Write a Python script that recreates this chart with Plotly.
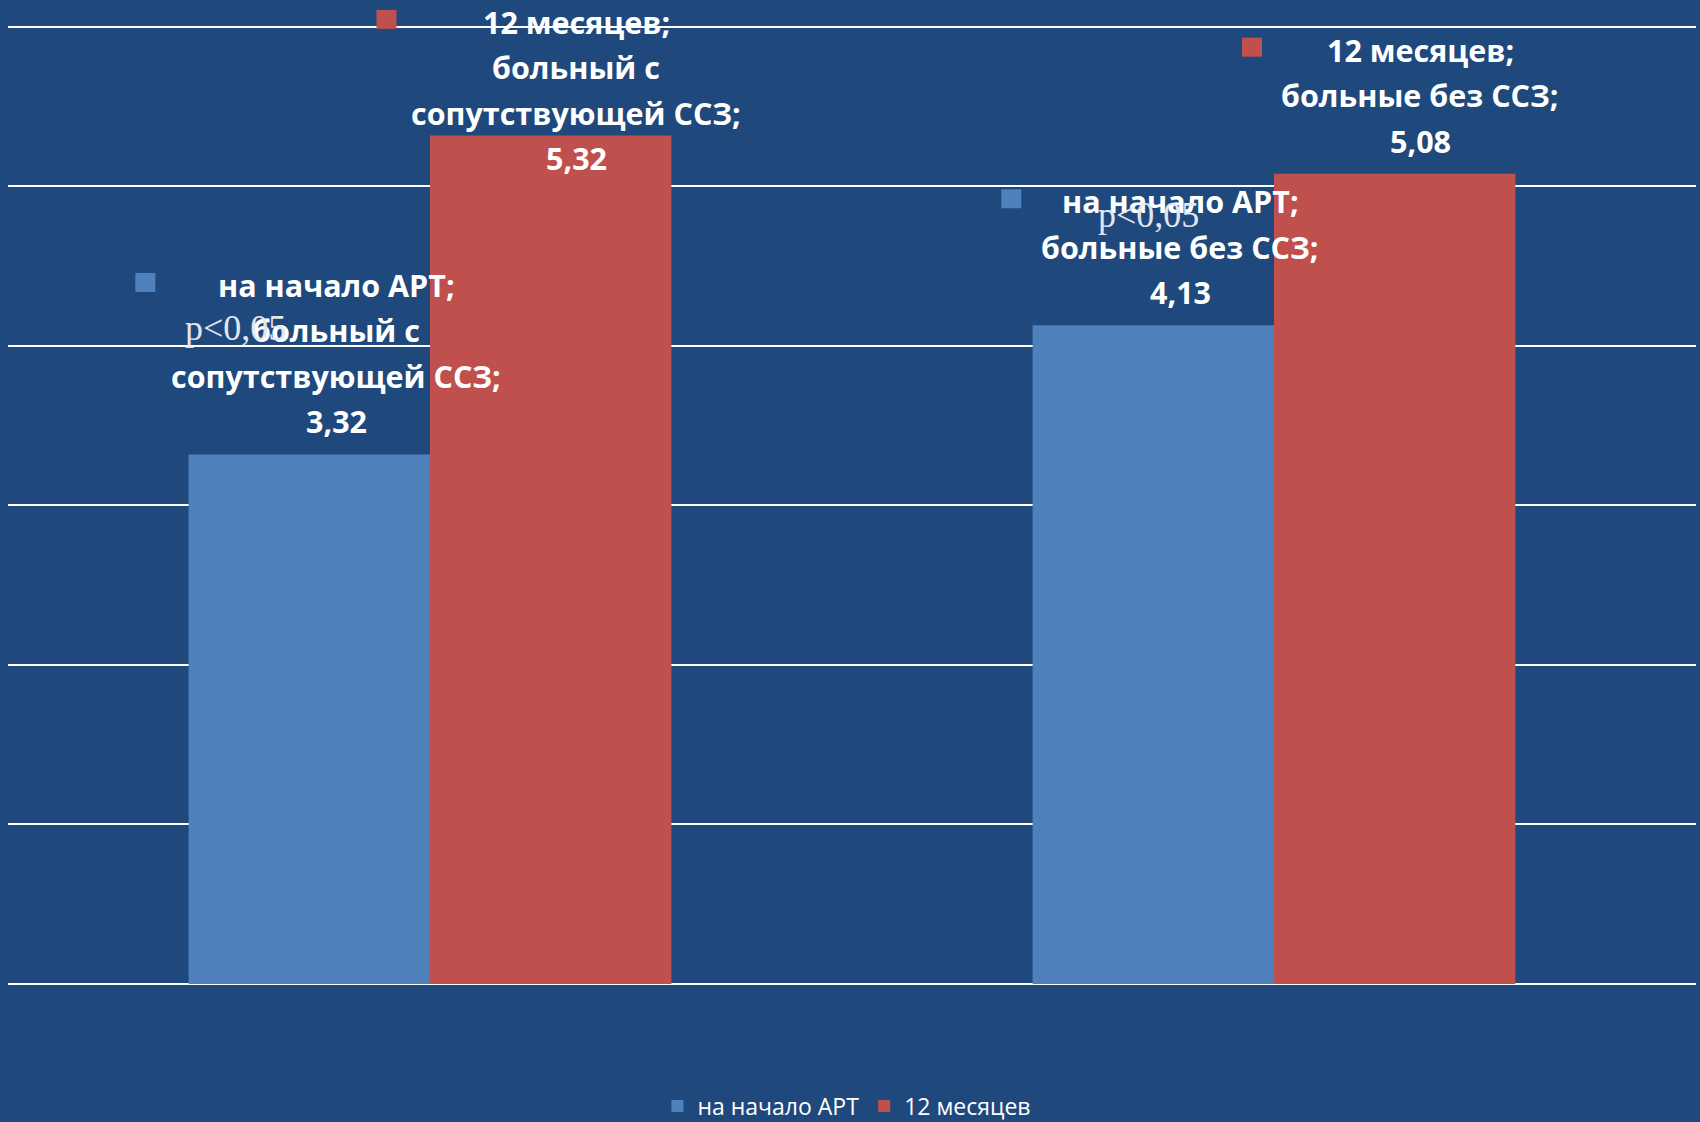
import plotly.graph_objects as go

# ---- data ----
category_lines = [["больный с", "сопутствующей ССЗ"], ["больные без ССЗ"]]
categories = [" ".join(lines) for lines in category_lines]
series_names = ["на начало АРТ", "12 месяцев"]
values_start = [3.32, 4.13]
values_12m = [5.32, 5.08]
series_values = [values_start, values_12m]
series_colors = ["#4F81BD", "#C0504D"]
note_text = "p<0,05"

BG = "#1F497D"
W, H = 1700, 1122
LABEL_FONT = dict(family="Open Sans", size=30.5, color="white")
LINE_STEP = 45.5
Y_TOP = 6.169  # leaves room above the 6-gridline for the data labels

# label placement per (series, category): x offset from category centre,
# pixel shift of the last line above the bar top, key offset from label centre
label_dx = [[-0.111, -0.111], [0.173, 0.173]]
label_shift = [[33, 33], [-23, 33]]
key_dx = [[-191, -169], [-189.5, -168]]

fig = go.Figure()
for name, vals, col in zip(series_names, series_values, series_colors):
    fig.add_trace(go.Bar(
        x=categories, y=vals, name=name,
        marker=dict(color=col, line=dict(width=0)),
        hoverinfo="skip",
    ))

annotations = []
shapes = []
for s, (name, vals, col) in enumerate(zip(series_names, series_values, series_colors)):
    for c, v in enumerate(vals):
        cat = list(category_lines[c])
        cat[-1] = cat[-1] + ";"
        lines = [name + ";"] + cat + [f"{v:.2f}".replace(".", ",")]
        n = len(lines)
        xa = c + label_dx[s][c]
        for k, line in enumerate(lines):
            annotations.append(dict(
                x=xa, y=v, xref="x", yref="y",
                text="<b>" + line + "</b>", showarrow=False,
                xanchor="center", yanchor="middle",
                yshift=label_shift[s][c] + (n - 1 - k) * LINE_STEP,
                font=LABEL_FONT,
            ))
        top_shift = label_shift[s][c] + (n - 1) * LINE_STEP + 2.5
        kx = key_dx[s][c]
        shapes.append(dict(
            type="rect", xref="x", yref="y",
            xsizemode="pixel", ysizemode="pixel",
            xanchor=xa, yanchor=v,
            x0=kx - 10, x1=kx + 10, y0=top_shift - 9.5, y1=top_shift + 9.5,
            fillcolor=col, line=dict(width=0), layer="above",
        ))

# significance notes
note_pos = [(-0.23, 4.112), (0.851, 4.82)]
for x, y in note_pos:
    annotations.append(dict(
        x=x, y=y, xref="x", yref="y", text=note_text, showarrow=False,
        xanchor="center", yanchor="middle",
        font=dict(family="Liberation Serif", size=36, color="#e2e6ee"),
    ))

fig.update_layout(
    width=W, height=H,
    paper_bgcolor=BG, plot_bgcolor=BG,
    margin=dict(l=8, r=4, t=0, b=138, pad=0),
    barmode="group", bargap=0.428, bargroupgap=0,
    showlegend=True,
    legend=dict(
        orientation="h", x=0.497, xanchor="center",
        yref="container", y=(H - 1106) / H, yanchor="middle",
        font=dict(family="Open Sans", size=23, color="white"),
        bgcolor="rgba(0,0,0,0)", itemclick=False,
    ),
    xaxis=dict(showticklabels=False, showgrid=False, zeroline=False,
               showline=False, ticks=""),
    yaxis=dict(range=[0, Y_TOP], dtick=1, showticklabels=False,
               showgrid=True, gridcolor="white", gridwidth=2,
               zeroline=True, zerolinecolor="white", zerolinewidth=2,
               showline=False, ticks=""),
    annotations=annotations,
    shapes=shapes,
)

fig.write_html("out.html")
